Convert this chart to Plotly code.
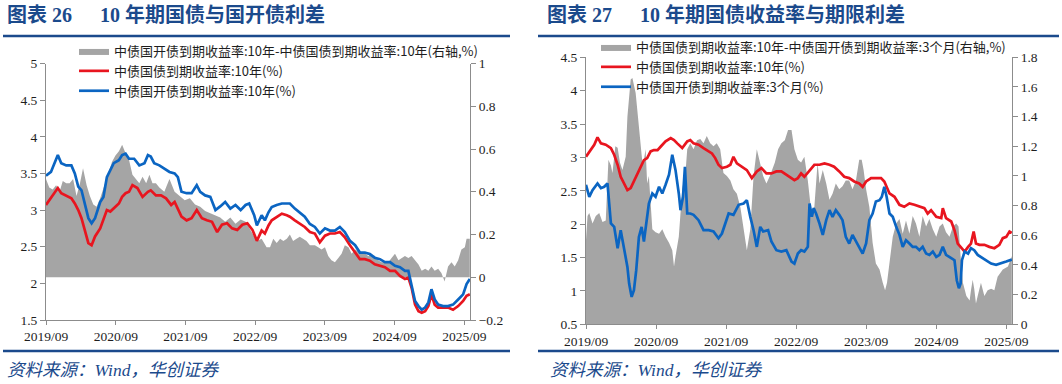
import plotly.graph_objects as go

W, H = 1062, 384

# ---------------- Left chart (图表 26) data ----------------
cdb10_dates = [
    "2019-09-01", "2019-09-27", "2019-11-02", "2019-11-20", "2019-12-16", "2020-01-12", "2020-01-30",
    "2020-02-17", "2020-03-05", "2020-03-22", "2020-04-10", "2020-04-27", "2020-05-15", "2020-06-11",
    "2020-06-28", "2020-07-16", "2020-08-03", "2020-08-21", "2020-09-17", "2020-10-04", "2020-10-22",
    "2020-11-09", "2020-12-06", "2021-01-02", "2021-01-29", "2021-02-16", "2021-03-03", "2021-03-21",
    "2021-04-17", "2021-05-13", "2021-06-09", "2021-07-06", "2021-07-23", "2021-08-11", "2021-09-07",
    "2021-10-03", "2021-10-30", "2021-11-17", "2021-12-13", "2022-01-09", "2022-02-05", "2022-03-02",
    "2022-03-28", "2022-04-24", "2022-05-21", "2022-06-17", "2022-07-13", "2022-08-01", "2022-08-27",
    "2022-09-10", "2022-10-05", "2022-10-22", "2022-11-10", "2022-11-27", "2022-12-23", "2023-01-19",
    "2023-02-14", "2023-03-02", "2023-03-28", "2023-04-23", "2023-05-19", "2023-06-15", "2023-07-11",
    "2023-08-06", "2023-09-02", "2023-09-28", "2023-10-24", "2023-11-19", "2023-12-15", "2024-01-11",
    "2024-02-07", "2024-03-03", "2024-03-29", "2024-04-24", "2024-05-20", "2024-06-16", "2024-07-12",
    "2024-08-08", "2024-09-03", "2024-09-29", "2024-10-25", "2024-11-12", "2024-11-29", "2024-12-17",
    "2025-01-04", "2025-01-21", "2025-02-08", "2025-02-25", "2025-03-13", "2025-03-30", "2025-04-17",
    "2025-05-13", "2025-06-08", "2025-07-04", "2025-07-31", "2025-08-26", "2025-09-13", "2025-09-30",
]
cdb10_values = [
    3.47, 3.52, 3.75, 3.64, 3.61, 3.61, 3.50,
    3.32, 3.27, 3.07, 2.89, 2.82, 2.89, 3.11,
    3.18, 3.45, 3.55, 3.64, 3.68, 3.75, 3.77,
    3.70, 3.70, 3.61, 3.64, 3.75, 3.73, 3.64,
    3.61, 3.57, 3.52, 3.50, 3.45, 3.25, 3.23,
    3.23, 3.34, 3.25, 3.20, 3.18, 3.00, 3.05,
    3.11, 3.02, 3.07, 3.00, 3.07, 3.09, 2.93,
    2.79, 2.93, 2.86, 2.97, 3.04, 3.07, 3.09,
    3.09, 3.09, 3.02, 2.97, 2.91, 2.81, 2.77,
    2.68, 2.75, 2.72, 2.72, 2.77, 2.70, 2.58,
    2.52, 2.42, 2.42, 2.40, 2.35, 2.33, 2.29,
    2.29, 2.24, 2.22, 2.17, 2.17, 1.99, 1.76,
    1.69, 1.64, 1.67, 1.74, 1.92, 1.78, 1.71,
    1.69, 1.69, 1.71, 1.78, 1.85, 1.99, 2.06,
]

cgb10_l_dates = [
    "2019-09-01", "2019-09-27", "2019-11-02", "2019-11-20", "2019-12-16", "2020-01-12", "2020-01-30",
    "2020-02-17", "2020-03-05", "2020-03-22", "2020-04-10", "2020-04-27", "2020-05-15", "2020-06-11",
    "2020-06-28", "2020-07-16", "2020-08-03", "2020-08-21", "2020-09-17", "2020-10-04", "2020-10-22",
    "2020-11-09", "2020-11-27", "2020-12-23", "2021-01-19", "2021-02-16", "2021-03-03", "2021-03-30",
    "2021-04-26", "2021-05-22", "2021-06-18", "2021-07-06", "2021-07-23", "2021-08-11", "2021-09-07",
    "2021-10-03", "2021-10-30", "2021-11-26", "2021-12-22", "2022-01-18", "2022-02-14", "2022-03-11",
    "2022-04-07", "2022-05-03", "2022-05-30", "2022-06-26", "2022-07-22", "2022-08-18",
    "2022-09-10", "2022-10-05", "2022-10-22", "2022-11-10", "2022-11-27", "2022-12-23", "2023-01-19",
    "2023-02-14", "2023-03-02", "2023-03-28", "2023-04-23", "2023-05-19", "2023-06-15", "2023-07-11",
    "2023-08-06", "2023-09-02", "2023-09-28", "2023-10-24", "2023-11-19", "2023-12-15", "2024-01-11",
    "2024-02-07", "2024-03-03", "2024-03-29", "2024-04-24", "2024-05-20", "2024-06-16", "2024-07-12",
    "2024-08-08", "2024-09-03", "2024-09-29", "2024-10-25", "2024-11-12", "2024-11-29", "2024-12-17",
    "2025-01-04", "2025-01-21", "2025-02-08", "2025-02-25", "2025-03-13", "2025-03-30", "2025-04-17",
    "2025-05-13", "2025-06-08", "2025-07-04", "2025-07-31", "2025-08-26", "2025-09-13", "2025-09-30",
]
cgb10_l_values = [
    3.07, 3.16, 3.30, 3.23, 3.20, 3.16, 3.09,
    3.00, 2.89, 2.73, 2.55, 2.52, 2.64, 2.75,
    2.86, 3.00, 2.98, 3.02, 3.09, 3.18, 3.23,
    3.25, 3.34, 3.30, 3.18, 3.25, 3.27, 3.20,
    3.20, 3.16, 3.07, 3.11, 3.02, 2.91, 2.86,
    2.89, 3.00, 2.89, 2.86, 2.84, 2.70, 2.80,
    2.82, 2.75, 2.73, 2.80, 2.82, 2.73,
    2.58, 2.72, 2.68, 2.79, 2.86, 2.91, 2.95,
    2.93, 2.91, 2.86, 2.81, 2.77, 2.70, 2.68,
    2.56, 2.65, 2.68, 2.68, 2.70, 2.63, 2.52,
    2.42, 2.33, 2.33, 2.31, 2.26, 2.24, 2.22,
    2.17, 2.17, 2.10, 2.06, 2.08, 1.94, 1.71,
    1.62, 1.60, 1.62, 1.69, 1.85, 1.71, 1.67,
    1.67, 1.67, 1.64, 1.69, 1.76, 1.83, 1.85,
]

spread_l_dates = [
    "2019-09-01", "2019-09-18", "2019-10-06", "2019-10-24", "2019-11-11", "2019-11-28", "2019-12-16",
    "2020-01-03", "2020-01-21", "2020-02-08", "2020-02-26", "2020-03-13", "2020-04-01", "2020-04-18",
    "2020-05-06", "2020-05-23", "2020-06-11", "2020-07-07", "2020-07-25", "2020-08-12", "2020-08-30",
    "2020-09-17", "2020-10-04", "2020-10-22", "2020-11-09", "2020-11-27", "2020-12-15", "2021-01-02",
    "2021-01-19", "2021-02-07", "2021-02-24", "2021-03-12", "2021-03-30", "2021-04-17", "2021-05-13",
    "2021-06-09", "2021-07-06", "2021-08-02", "2021-08-28", "2021-09-24", "2021-10-21", "2021-11-17",
    "2021-12-13", "2022-01-09", "2022-02-05", "2022-03-02", "2022-03-28", "2022-04-24", "2022-05-21",
    "2022-06-17", "2022-07-13", "2022-08-09",
    "2022-09-10", "2022-10-05", "2022-10-31", "2022-11-18", "2022-12-05", "2022-12-23", "2023-01-10",
    "2023-01-27", "2023-02-14", "2023-03-02", "2023-03-19", "2023-04-06", "2023-04-23", "2023-05-10",
    "2023-05-28", "2023-06-15", "2023-07-11", "2023-07-28", "2023-08-15", "2023-09-02", "2023-09-19",
    "2023-10-06", "2023-10-24", "2023-11-11", "2023-11-28", "2023-12-15", "2024-01-03", "2024-01-20",
    "2024-02-07", "2024-02-24", "2024-03-12", "2024-03-29", "2024-04-16", "2024-05-03", "2024-05-20",
    "2024-06-07", "2024-06-25", "2024-07-12", "2024-07-30", "2024-08-16", "2024-09-03", "2024-09-21",
    "2024-10-08", "2024-10-25", "2024-11-12", "2024-11-29", "2024-12-17", "2025-01-04", "2025-01-21",
    "2025-02-08", "2025-02-25", "2025-03-13", "2025-03-30", "2025-04-17", "2025-05-04", "2025-05-21",
    "2025-06-08", "2025-06-26", "2025-07-13", "2025-07-31", "2025-08-17", "2025-09-04", "2025-09-13",
    "2025-09-30",
]
spread_l_values = [
    0.46, 0.42, 0.41, 0.43, 0.40, 0.45, 0.44,
    0.44, 0.46, 0.38, 0.44, 0.51, 0.43, 0.38,
    0.34, 0.33, 0.37, 0.44, 0.49, 0.54, 0.57,
    0.59, 0.62, 0.58, 0.55, 0.48, 0.46, 0.44,
    0.47, 0.44, 0.48, 0.44, 0.44, 0.42, 0.40,
    0.46, 0.40, 0.38, 0.36, 0.37, 0.34, 0.33,
    0.31, 0.30, 0.29, 0.28, 0.26, 0.28, 0.25,
    0.27, 0.26, 0.22,
    0.17, 0.18, 0.14, 0.14, 0.18, 0.16, 0.18,
    0.17, 0.18, 0.20, 0.17, 0.18, 0.19, 0.18,
    0.17, 0.15, 0.15, 0.14, 0.13, 0.14, 0.10,
    0.08, 0.07, 0.09, 0.11, 0.15, 0.14, 0.11,
    0.13, 0.12, 0.11, 0.11, 0.10, 0.11, 0.09,
    0.08, 0.07, 0.07, 0.07, 0.09, 0.11, 0.08,
    0.09, 0.10, 0.09, 0.10, 0.08, 0.06, 0.03,
    0.04, 0.03, 0.05, 0.03, 0.04, 0.02, -0.02,
    0.05, 0.07, 0.05, 0.08, 0.13, 0.14, 0.18,
    0.18,
]

# ---------------- Right chart (图表 27) data ----------------
cgb10_r_dates = [
    "2019-09-01", "2019-09-27", "2019-10-14", "2019-10-31", "2019-11-18", "2019-12-13", "2020-01-09",
    "2020-01-26", "2020-02-13", "2020-02-29", "2020-03-17", "2020-04-04", "2020-04-21", "2020-05-08",
    "2020-05-25", "2020-06-12", "2020-06-29", "2020-07-16", "2020-08-03", "2020-08-20", "2020-09-08",
    "2020-09-24", "2020-10-20", "2020-11-16", "2020-12-03", "2020-12-20", "2021-01-15", "2021-02-10",
    "2021-02-26", "2021-03-15", "2021-04-10", "2021-05-06", "2021-06-02", "2021-06-19", "2021-07-06",
    "2021-07-23", "2021-08-10", "2021-09-05", "2021-09-23", "2021-10-09", "2021-10-27", "2021-11-22",
    "2021-12-18", "2022-01-13", "2022-02-08", "2022-03-04", "2022-03-30", "2022-04-25", "2022-05-21",
    "2022-06-16", "2022-07-12", "2022-07-29",
    "2022-08-23", "2022-09-10", "2022-09-27", "2022-10-14", "2022-11-10", "2022-12-05", "2023-01-01",
    "2023-01-27", "2023-02-22", "2023-03-18", "2023-04-14", "2023-05-10", "2023-06-05", "2023-07-01",
    "2023-07-27", "2023-08-14", "2023-09-01", "2023-09-27", "2023-10-22", "2023-11-18", "2023-12-05",
    "2024-01-01", "2024-01-27", "2024-02-22", "2024-03-18", "2024-04-14", "2024-05-10", "2024-06-05",
    "2024-07-01", "2024-07-18", "2024-08-05", "2024-09-01", "2024-09-27", "2024-10-05", "2024-10-22",
    "2024-11-18", "2024-12-05", "2024-12-22", "2025-01-10", "2025-01-27", "2025-02-14", "2025-03-01",
    "2025-03-15", "2025-03-27", "2025-04-14", "2025-05-10", "2025-06-05", "2025-07-01", "2025-07-27",
    "2025-08-14", "2025-09-01", "2025-09-18", "2025-09-30",
]
cgb10_r_values = [
    3.01, 3.11, 3.19, 3.30, 3.21, 3.19, 3.14,
    3.04, 2.89, 2.71, 2.61, 2.51, 2.54, 2.64,
    2.76, 2.86, 2.96, 2.99, 3.09, 3.11, 3.11,
    3.16, 3.24, 3.29, 3.26, 3.21, 3.14, 3.24,
    3.26, 3.21, 3.19, 3.14, 3.09, 3.06, 2.99,
    2.89, 2.84, 2.86, 2.89, 3.01, 2.91, 2.86,
    2.81, 2.69, 2.79, 2.84, 2.76, 2.76, 2.79,
    2.79, 2.74, 2.71,
    2.66, 2.69, 2.76, 2.71, 2.81, 2.89, 2.89,
    2.91, 2.89, 2.86, 2.79, 2.71, 2.69, 2.64,
    2.61, 2.56, 2.64, 2.69, 2.69, 2.69, 2.64,
    2.46, 2.41, 2.29, 2.26, 2.31, 2.29, 2.26,
    2.24, 2.16, 2.21, 2.11, 2.09, 2.24, 2.09,
    2.04, 1.91, 1.71, 1.64, 1.59, 1.66, 1.71,
    1.89, 1.71, 1.69, 1.69, 1.66, 1.64, 1.69,
    1.79, 1.81, 1.89, 1.87,
]

cdb3m_dates = [
    "2019-09-01", "2019-09-18", "2019-10-05", "2019-10-31", "2019-11-18", "2019-12-05", "2019-12-22",
    "2020-01-01", "2020-01-09", "2020-01-26", "2020-02-13", "2020-02-29", "2020-03-17", "2020-04-04",
    "2020-04-13", "2020-04-26", "2020-05-08", "2020-05-20", "2020-06-03", "2020-06-17", "2020-06-29",
    "2020-07-08", "2020-07-25", "2020-08-12", "2020-08-29", "2020-09-16", "2020-10-03", "2020-10-20",
    "2020-11-07", "2020-11-24", "2020-12-11", "2020-12-28", "2021-01-06", "2021-01-19", "2021-01-29",
    "2021-02-10", "2021-02-26", "2021-03-15", "2021-04-10", "2021-05-06", "2021-06-02", "2021-06-27",
    "2021-07-23", "2021-08-10", "2021-08-27", "2021-09-14", "2021-10-09", "2021-11-05", "2021-12-01",
    "2021-12-18", "2022-01-05", "2022-01-22", "2022-02-08", "2022-02-26", "2022-03-13", "2022-04-08",
    "2022-04-25", "2022-05-21", "2022-06-16", "2022-07-12", "2022-08-08",
    "2022-08-23", "2022-09-10", "2022-09-27", "2022-10-14", "2022-11-01", "2022-11-10", "2022-11-22",
    "2022-12-02", "2022-12-14", "2023-01-01", "2023-01-18", "2023-02-05", "2023-02-22", "2023-03-10",
    "2023-03-27", "2023-04-14", "2023-05-01", "2023-05-18", "2023-06-05", "2023-06-22", "2023-07-10",
    "2023-07-27", "2023-08-14", "2023-09-01", "2023-09-18", "2023-10-05", "2023-10-22", "2023-11-10",
    "2023-11-22", "2023-12-05", "2023-12-17", "2024-01-01", "2024-01-18", "2024-02-05", "2024-02-22",
    "2024-03-10", "2024-03-27", "2024-04-14", "2024-05-01", "2024-05-18", "2024-06-05", "2024-06-22",
    "2024-07-10", "2024-07-27", "2024-08-14", "2024-09-01", "2024-09-18", "2024-10-05", "2024-10-22",
    "2024-11-18", "2024-12-05", "2024-12-17", "2024-12-28", "2025-01-06", "2025-01-13", "2025-01-27",
    "2025-02-14", "2025-03-01", "2025-03-18", "2025-04-05", "2025-04-22", "2025-05-18", "2025-06-14",
    "2025-07-10", "2025-08-05", "2025-09-01", "2025-09-30",
]
cdb3m_values = [
    2.59, 2.41, 2.51, 2.61, 2.54, 2.56, 2.61,
    2.26, 2.01, 1.96, 1.64, 1.91, 1.61, 1.36,
    1.11, 0.91, 1.01, 1.31, 1.81, 1.96, 1.74,
    1.96, 2.31, 2.46, 2.41, 2.56, 2.46, 2.59,
    2.74, 3.04, 2.81, 2.46, 2.21, 2.41, 2.86,
    2.16, 2.16, 2.14, 2.06, 1.91, 1.91, 1.89,
    1.79, 1.86, 2.01, 2.16, 2.14, 2.29, 2.31,
    2.36, 2.11, 1.91, 1.66, 1.96, 1.89, 1.91,
    1.74, 1.61, 1.59, 1.61, 1.44,
    1.41, 1.56, 1.61, 1.59, 1.66, 2.31, 2.11,
    2.24, 2.16, 2.01, 1.84, 2.06, 2.21, 2.11,
    2.21, 2.14, 2.06, 1.81, 1.71, 1.84, 1.74,
    1.66, 1.56, 1.71, 2.06, 2.16, 2.34, 2.36,
    2.41, 2.56, 2.41, 2.16, 2.11, 1.96, 1.84,
    1.66, 1.76, 1.71, 1.66, 1.66, 1.61, 1.66,
    1.56, 1.54, 1.59, 1.51, 1.54, 1.66, 1.54,
    1.49, 1.46, 1.16, 1.04, 1.11, 1.46, 1.59,
    1.56, 1.64, 1.61, 1.54, 1.51, 1.46, 1.41,
    1.39, 1.41, 1.44, 1.47,
]

term_dates = [
    "2019-09-01", "2019-09-09", "2019-09-18", "2019-10-05", "2019-10-22", "2019-11-09", "2019-11-26",
    "2019-12-13", "2019-12-27", "2020-01-09", "2020-01-17", "2020-02-01", "2020-02-13", "2020-02-25",
    "2020-03-09", "2020-03-26", "2020-04-04", "2020-04-13", "2020-04-21", "2020-04-30", "2020-05-08",
    "2020-05-17", "2020-05-29", "2020-06-09", "2020-06-21", "2020-06-29", "2020-07-08", "2020-07-16",
    "2020-07-25", "2020-08-12", "2020-08-29", "2020-09-16", "2020-10-03", "2020-10-20", "2020-11-07",
    "2020-11-24", "2020-12-03", "2020-12-11", "2020-12-28", "2021-01-15", "2021-02-02", "2021-02-10",
    "2021-02-26", "2021-03-15", "2021-04-02", "2021-04-19", "2021-05-06", "2021-05-23", "2021-06-10",
    "2021-06-27", "2021-07-14", "2021-08-01", "2021-08-18", "2021-09-05", "2021-09-23", "2021-10-09",
    "2021-10-27", "2021-11-14", "2021-12-01", "2021-12-18", "2022-01-05", "2022-01-22", "2022-02-08",
    "2022-02-26", "2022-03-13", "2022-03-30", "2022-04-17", "2022-05-13", "2022-05-30", "2022-06-16",
    "2022-07-04", "2022-07-21", "2022-08-08",
    "2022-08-23", "2022-09-10", "2022-09-27", "2022-10-14", "2022-11-01", "2022-11-10", "2022-11-18",
    "2022-12-05", "2022-12-22", "2023-01-01", "2023-01-18", "2023-02-05", "2023-02-22", "2023-03-10",
    "2023-03-27", "2023-04-14", "2023-05-01", "2023-05-18", "2023-06-05", "2023-06-22", "2023-07-10",
    "2023-07-27", "2023-08-09", "2023-08-19", "2023-09-01", "2023-09-18", "2023-10-05", "2023-10-22",
    "2023-11-10", "2023-11-27", "2023-12-09", "2023-12-19", "2024-01-01", "2024-01-18", "2024-02-05",
    "2024-02-22", "2024-03-10", "2024-03-27", "2024-04-14", "2024-05-01", "2024-05-18", "2024-06-05",
    "2024-06-22", "2024-07-10", "2024-07-27", "2024-08-14", "2024-09-01", "2024-09-18", "2024-10-05",
    "2024-10-22", "2024-11-09", "2024-11-27", "2024-12-14", "2024-12-26", "2025-01-06", "2025-01-18",
    "2025-02-05", "2025-02-22", "2025-03-01", "2025-03-10", "2025-03-18", "2025-03-27", "2025-04-05",
    "2025-04-22", "2025-05-10", "2025-05-27", "2025-06-14", "2025-07-01", "2025-07-18", "2025-08-14",
    "2025-09-10", "2025-09-30",
]
term_values = [
    0.57, 0.73, 0.75, 0.68, 0.73, 0.75, 0.69,
    0.70, 1.11, 1.07, 1.02, 1.20, 1.19, 1.09,
    1.04, 1.13, 1.40, 1.53, 1.65, 1.66, 1.61,
    1.56, 1.40, 1.24, 1.09, 1.11, 1.18, 0.95,
    1.00, 0.64, 0.62, 0.61, 0.64, 0.59, 0.55,
    0.50, 0.39, 0.46, 0.59, 0.91, 1.04, 1.18,
    1.22, 1.18, 1.24, 1.25, 1.22, 1.27, 1.22,
    1.20, 1.22, 1.18, 1.02, 1.00, 0.97, 0.91,
    0.88, 0.79, 0.64, 0.50, 0.64, 1.00, 1.18,
    1.09, 1.00, 0.95, 1.00, 1.09, 1.18, 1.22,
    1.24, 1.31, 1.31,
    1.18, 1.11, 1.09, 1.13, 0.97, 0.86, 0.77,
    0.79, 1.09, 0.95, 1.04, 0.95, 0.84, 0.88,
    0.95, 0.91, 0.93, 0.97, 0.97, 0.91, 0.97,
    1.11, 1.11, 1.04, 0.91, 0.79, 0.55, 0.41,
    0.37, 0.28, 0.23, 0.28, 0.41, 0.59, 0.68,
    0.71, 0.61, 0.70, 0.61, 0.73, 0.68, 0.59,
    0.73, 0.66, 0.71, 0.64, 0.59, 0.66, 0.68,
    0.62, 0.59, 0.66, 0.68, 0.66, 0.46, 0.28,
    0.19, 0.16, 0.23, 0.30, 0.24, 0.14, 0.19,
    0.28, 0.19, 0.23, 0.24, 0.23, 0.32, 0.37,
    0.39, 0.46,
]

# ---------------- Text ----------------
title_l_no, title_l = "图表 26", "10 年期国债与国开债利差"
title_r_no, title_r = "图表 27", "10 年期国债收益率与期限利差"
source_text = "资料来源：Wind，华创证券"
name_spread_l = "中债国开债到期收益率:10年-中债国债到期收益率:10年(右轴,%)"
name_cgb10 = "中债国债到期收益率:10年(%)"
name_cdb10 = "中债国开债到期收益率:10年(%)"
name_term = "中债国债到期收益率:10年-中债国开债到期收益率:3个月(右轴,%)"
name_cdb3m = "中债国开债到期收益率:3个月(%)"

# ---------------- Style ----------------
GRAY = "#A5A5A5"
RED = "#E8151F"
BLUE = "#0B65C2"
NAVY = "#1B4A8C"
AXIS = "#8C8C8C"
TXT = "#1E1E1E"
SERIF = "Liberation Serif, Noto Sans CJK SC"
CJK = "Noto Sans CJK SC, Liberation Serif"

fig = go.Figure()

# Left chart
fig.add_trace(go.Scatter(x=spread_l_dates, y=spread_l_values, name=name_spread_l, mode="lines",
                         line=dict(width=0, color=GRAY), fill="tozeroy", fillcolor=GRAY,
                         xaxis="x", yaxis="y", legend="legend"))
fig.add_trace(go.Scatter(x=cgb10_l_dates, y=cgb10_l_values, name=name_cgb10, mode="lines",
                         line=dict(width=2.7, color=RED), xaxis="x", yaxis="y2", legend="legend"))
fig.add_trace(go.Scatter(x=cdb10_dates, y=cdb10_values, name=name_cdb10, mode="lines",
                         line=dict(width=2.7, color=BLUE), xaxis="x", yaxis="y2", legend="legend"))

# Right chart
fig.add_trace(go.Scatter(x=term_dates, y=term_values, name=name_term, mode="lines",
                         line=dict(width=0, color=GRAY), fill="tozeroy", fillcolor=GRAY,
                         xaxis="x2", yaxis="y3", legend="legend2"))
fig.add_trace(go.Scatter(x=cgb10_r_dates, y=cgb10_r_values, name=name_cgb10, mode="lines",
                         line=dict(width=2.7, color=RED), xaxis="x2", yaxis="y4", legend="legend2"))
fig.add_trace(go.Scatter(x=cdb3m_dates, y=cdb3m_values, name=name_cdb3m, mode="lines",
                         line=dict(width=2.7, color=BLUE), xaxis="x2", yaxis="y4", legend="legend2"))

tickfont = dict(family=SERIF, size=13.5, color=TXT)
common_axis = dict(showgrid=False, zeroline=False, showline=True, linecolor=AXIS, linewidth=1,
                   ticks="outside", tickcolor=AXIS, ticklen=5, tickfont=tickfont, automargin=False)

xcommon = dict(common_axis, type="date", range=["2019-09-01", "2025-10-01"], tick0="2019-09-01",
               dtick="M12", tickformat="%Y/%m", ticklen=4)

yl_dom = [1 - 320 / H, 1 - 63.5 / H]
yr_dom = [1 - 324.3 / H, 1 - 57.3 / H]

fig.update_layout(
    width=W, height=H, template="none",
    margin=dict(l=0, r=0, t=0, b=0),
    paper_bgcolor="white", plot_bgcolor="rgba(0,0,0,0)",
    showlegend=True,
    xaxis=dict(xcommon, domain=[46 / W, 470 / W], anchor="y"),
    yaxis=dict(common_axis, domain=yl_dom, anchor="x", side="right", range=[-0.2, 1.0], dtick=0.2,
               tick0=0),
    yaxis2=dict(common_axis, overlaying="y", anchor="x", side="left", range=[1.5, 5.0], dtick=0.5),
    xaxis2=dict(xcommon, domain=[586 / W, 1012 / W], anchor="y3"),
    yaxis3=dict(common_axis, domain=yr_dom, anchor="x2", side="right", range=[0, 1.8], dtick=0.2),
    yaxis4=dict(common_axis, overlaying="y3", anchor="x2", side="left", range=[0.5, 4.5], dtick=0.5),
    legend=dict(x=74 / W, y=1 - 36 / H, xanchor="left", yanchor="top", bgcolor="rgba(0,0,0,0)",
                font=dict(family=CJK, size=13, color=TXT), borderwidth=0, tracegroupgap=0),
    legend2=dict(x=596 / W, y=1 - 32 / H, xanchor="left", yanchor="top", bgcolor="rgba(0,0,0,0)",
                 font=dict(family=CJK, size=13, color=TXT), borderwidth=0, tracegroupgap=0),
)

# Titles, rules and source notes
title_font = dict(family=SERIF, size=20, color=NAVY, weight="bold")
ann = []
for x0, no, t in [(5, title_l_no, title_l), (545, title_r_no, title_r)]:
    ann.append(dict(x=x0 / W, y=1 - 15 / H, xref="paper", yref="paper", xanchor="left", yanchor="middle",
                    text=f"<b>{no}</b>", showarrow=False, font=title_font))
    ann.append(dict(x=(x0 + 93) / W, y=1 - 15 / H, xref="paper", yref="paper", xanchor="left",
                    yanchor="middle", text=f"<b>{t}</b>", showarrow=False, font=title_font))
for x0 in (5, 548):
    ann.append(dict(x=x0 / W, y=1 - 370 / H, xref="paper", yref="paper", xanchor="left", yanchor="middle",
                    text=f"<i>{source_text}</i>", showarrow=False,
                    font=dict(family=SERIF, size=17.5, color=NAVY)))
fig.update_layout(annotations=ann)

shapes = []
for (a, b) in [(3, 510), (538, 1059)]:
    for yy in (36, 351):
        shapes.append(dict(type="line", xref="paper", yref="paper", x0=a / W, x1=b / W,
                           y0=1 - yy / H, y1=1 - yy / H, line=dict(color=NAVY, width=2.5)))
fig.update_layout(shapes=shapes)

fig.write_html("out.html", config={"displayModeBar": False},
               post_script="document.body.style.margin='0px';document.body.style.overflow='hidden';")
